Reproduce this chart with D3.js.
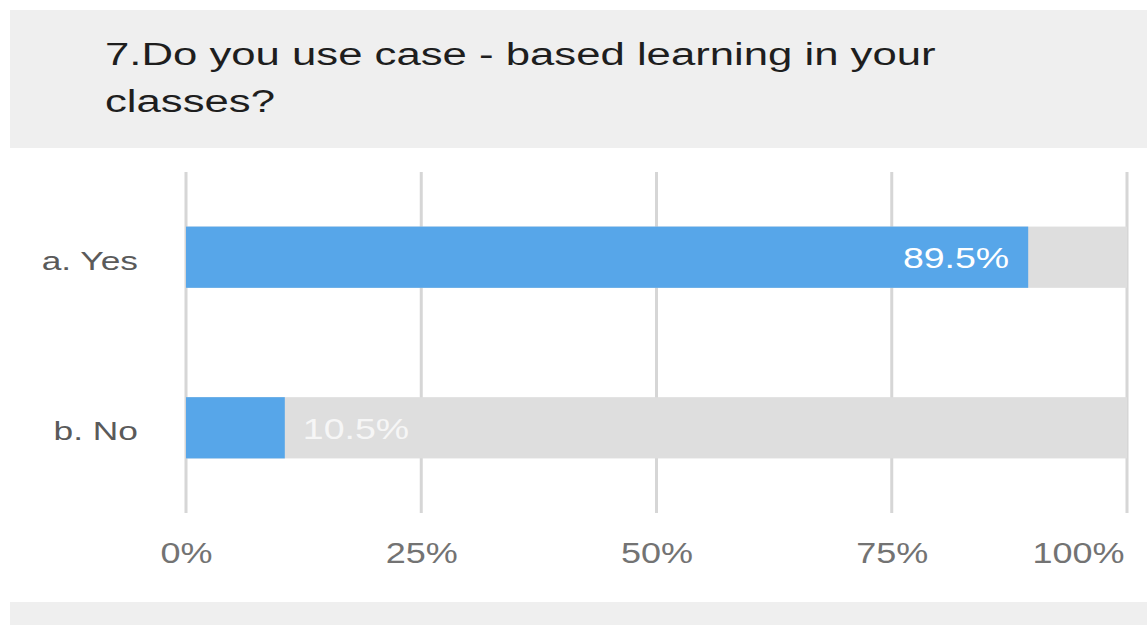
<!DOCTYPE html>
<html>
<head>
<meta charset="utf-8">
<script src="https://cdn.jsdelivr.net/npm/d3@7"></script>
<style>
  html, body { margin: 0; padding: 0; background: #ffffff; }
  svg { display: block; }
</style>
</head>
<body>
<svg id="chart" width="1147" height="625"></svg>
<script>
// Survey question and answers
const titleLines = ["7.Do you use case - based learning in your", "classes?"];
const categories = ["a. Yes", "b. No"];
const percentages = [89.5, 10.5];
const tickValues = [0, 25, 50, 75, 100];

const W = 1147, H = 625;
const svg = d3.select("#chart");
const font = "'Liberation Sans', Arial, sans-serif";

// Horizontal stretch applied to the wide-set lettering
const sxTitle = 1.41, sxLabel = 1.36, sxTick = 1.2, sxValue = 1.25;

// Header band and footer band
svg.append("rect").attr("x", 10).attr("y", 10).attr("width", W - 10).attr("height", 138).attr("fill", "#efefef");
svg.append("rect").attr("x", 10).attr("y", 602).attr("width", W - 10).attr("height", H - 602).attr("fill", "#efefef");

titleLines.forEach((t, i) => {
  svg.append("text")
    .attr("transform", `translate(105,${65 + i * 47}) scale(${sxTitle},1)`)
    .attr("font-family", font)
    .attr("font-size", 31)
    .attr("fill", "#1e1e1e")
    .text(t);
});

// Scales
const x = d3.scaleLinear().domain([0, 100]).range([186, 1127]);
const y = d3.scaleBand().domain(categories).range([172, 513]).paddingInner(0.641).paddingOuter(0.32);

// Vertical grid lines
svg.append("g").selectAll("line").data(tickValues).join("line")
  .attr("x1", d => x(d)).attr("x2", d => x(d))
  .attr("y1", 172).attr("y2", 513)
  .attr("stroke", "#d6d6d6").attr("stroke-width", 3);

// Tick labels via an axis
const axis = svg.append("g")
  .attr("transform", "translate(0,513)")
  .call(d3.axisBottom(x).tickValues(tickValues).tickFormat(d => d + "%").tickSize(0));
axis.select(".domain").remove();
axis.selectAll(".tick text")
  .attr("y", 0).attr("dy", 0)
  .attr("x", d => d === 100 ? -3 / sxTick : 0)
  .attr("text-anchor", d => d === 100 ? "end" : "middle")
  .attr("transform", `translate(0,50) scale(${sxTick},1)`)
  .attr("font-family", font).attr("font-size", 30).attr("fill", "#737373");

const rows = svg.append("g").selectAll("g").data(categories).join("g");

// Track (full 100%)
rows.append("rect")
  .attr("x", x(0)).attr("y", d => y(d))
  .attr("width", x(100) - x(0)).attr("height", y.bandwidth())
  .attr("fill", "#dedede");

// Value bar
rows.append("rect")
  .attr("x", x(0)).attr("y", d => y(d))
  .attr("width", (d, i) => x(percentages[i]) - x(0)).attr("height", y.bandwidth())
  .attr("fill", "#57a6e9");

// Category labels
rows.append("text")
  .attr("transform", d => `translate(138,${y(d) + y.bandwidth() / 2 + 12.5}) scale(${sxLabel},1)`)
  .attr("text-anchor", "end")
  .attr("font-family", font).attr("font-size", 26).attr("fill", "#5a5a5a")
  .text(d => d);

// Value labels: inside the bar when it is long, after it when short
rows.append("text")
  .attr("transform", (d, i) => {
    const inside = percentages[i] > 50;
    const tx = inside ? x(percentages[i]) - 19 : x(percentages[i]) + 18;
    return `translate(${tx},${y(d) + y.bandwidth() / 2 + 11}) scale(${sxValue},1)`;
  })
  .attr("text-anchor", (d, i) => percentages[i] > 50 ? "end" : "start")
  .attr("font-family", font).attr("font-size", 30)
  .attr("fill", (d, i) => percentages[i] > 50 ? "#ffffff" : "#f6f6f6")
  .text((d, i) => percentages[i].toFixed(1) + "%");
</script>
</body>
</html>
